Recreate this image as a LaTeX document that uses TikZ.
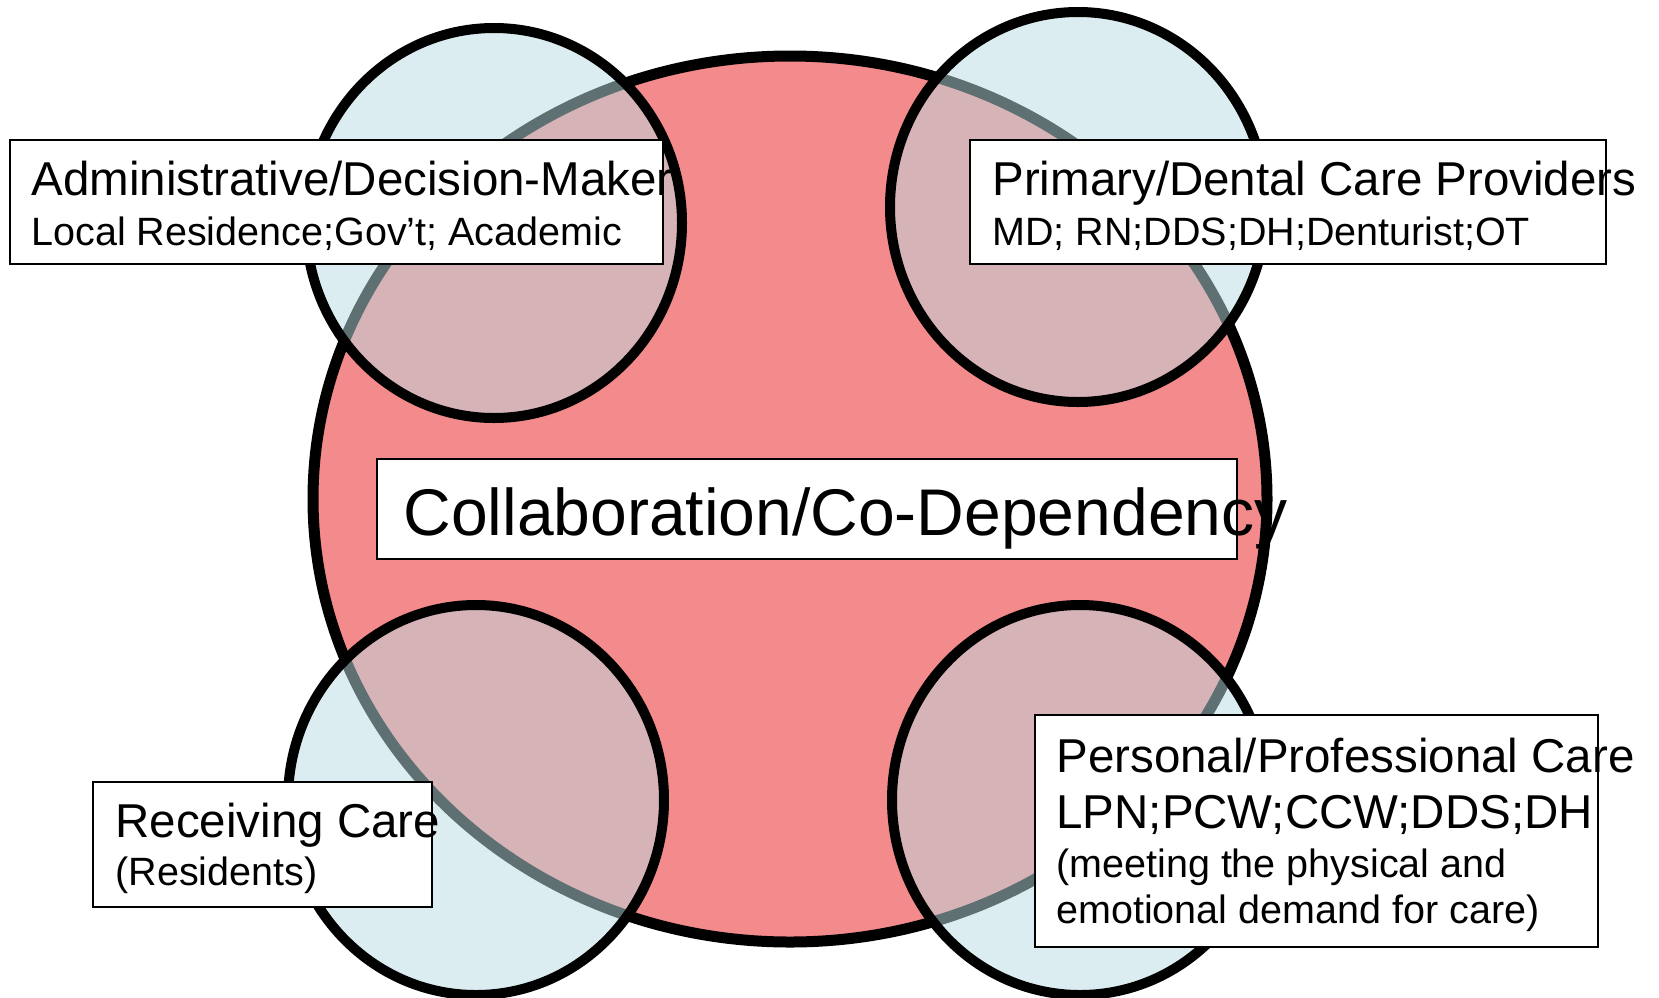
\documentclass[tikz,border=0pt]{standalone}
\usepackage{fontspec}
\setmainfont{Liberation Sans}
\definecolor{blobred}{RGB}{243,138,140}
\definecolor{blobblue}{RGB}{185,220,225}
\tikzset{
  bigblob/.style={draw=black, line width=5.5pt, fill=blobred},
  smallblob/.style={draw=black, line width=5pt, fill=blobblue, fill opacity=.51},
  labelbox/.style={draw=black, line width=1pt, fill=white},
  headtext/.style={anchor=base west, inner sep=0pt, font=\fontsize{23.75}{28}\selectfont},
  subtext/.style={anchor=base west, inner sep=0pt, font=\fontsize{19.75}{24}\selectfont},
  hubtext/.style={anchor=base west, inner sep=0pt, font=\fontsize{33}{40}\selectfont}
}
\begin{document}
\begin{tikzpicture}[x=.5pt, y=-.5pt]
\useasboundingbox (0,0) rectangle (1659,997);

% the shared middle
\draw[bigblob] (790,499) ellipse [x radius=477, y radius=443];

% the four groups
\foreach \cx/\cy in {494/223, 1078/207, 476/800, 1080/800}
{
    \draw[smallblob] (\cx,\cy) ellipse [x radius=188, y radius=195];
}

% label boxes
\draw[labelbox] (10,140) rectangle (663,264);
\draw[labelbox] (970,140) rectangle (1606,264);
\draw[labelbox] (377,459) rectangle (1237,559);
\draw[labelbox] (93,782) rectangle (432,907);
\draw[labelbox] (1035,715) rectangle (1598,947);

\node[headtext] (admin) at (31,195) {Administrative/Decision-Maker};
\node[subtext] (adminsub) at (31,245) {Local Residence;Gov’t; Academic};

\node[headtext] (primary) at (992,195) {Primary/Dental Care Providers};
\node[subtext] (primarysub) at (992,245) {MD; RN;DDS;DH;Denturist;OT};

\node[hubtext] (hub) at (403,535) {Collaboration/Co-Dependency};

\node[headtext] (receiving) at (115,837) {Receiving Care};
\node[subtext] (receivingsub) at (115,885) {(Residents)};

\node[headtext] (personal) at (1056,772) {Personal/Professional Care};
\node[headtext] (personalsub) at (1056,828) {LPN;PCW;CCW;DDS;DH};
\foreach \y/\ytext in {877/(meeting the physical and, 923/emotional demand for care)}
{
    \node[subtext] (personal\y) at (1056,\y) {\ytext};
}

\end{tikzpicture}
\end{document}
